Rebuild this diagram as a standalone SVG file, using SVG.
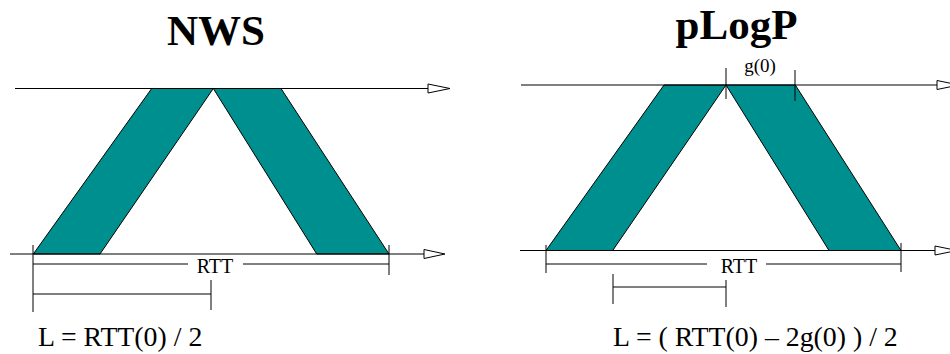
<svg xmlns="http://www.w3.org/2000/svg" width="950" height="354" viewBox="0 0 950 354">
<style>
.band{fill:#008f8f;stroke:#000;stroke-width:1}
.ax{stroke:#000;stroke-width:1;fill:none}
.gr{stroke:#000;stroke-width:1;fill:none}
.head{fill:#fff;stroke:#000;stroke-width:1}
text{font-family:'Liberation Serif','DejaVu Serif',serif;fill:#000}
.title{font-weight:bold;font-size:43px;text-anchor:middle}
.lbl{font-size:20px;text-anchor:middle}
.small{font-size:19px;text-anchor:middle}
.eq{font-size:27.8px}
</style>
<rect width="950" height="354" fill="#fff"/>
<g id="nws">
  <text class="title" x="216" y="45" font-family="Liberation Serif">NWS</text>
  <g id="nws-bands">
    <polygon class="band" points="33.3,254 151.7,88.5 213.3,88.5 100,254"/>
    <polygon class="band" points="213.3,88.5 281,88.5 389,254 316.7,254"/>
  </g>
  <g id="nws-connectors">
    <line class="ax" x1="15" y1="88.5" x2="428" y2="88.5"/>
    <polygon class="head" points="428,84 450,88.5 428,93"/>
    <line class="gr" x1="10" y1="254" x2="424" y2="254"/>
    <polygon class="head" points="424,249.5 445,254 424,258.5"/>
    <line class="gr" x1="33" y1="245" x2="33" y2="312"/>
    <line class="gr" x1="389" y1="245" x2="389" y2="275"/>
    <line class="gr" x1="33" y1="264" x2="188" y2="264"/>
    <line class="gr" x1="243" y1="264" x2="389" y2="264"/>
    <line class="gr" x1="33" y1="294" x2="211" y2="294"/>
    <line class="gr" x1="211" y1="280" x2="211" y2="310"/>
  </g>
  <text class="lbl" x="215" y="273" font-family="Liberation Serif">RTT</text>
  <text class="eq" x="38" y="346" font-family="Liberation Serif">L = RTT(0) / 2</text>
</g>
<g id="plogp">
  <text class="title" x="736.5" y="39" font-family="Liberation Serif">pLogP</text>
  <g id="plogp-bands">
    <polygon class="band" points="546,250.5 664,85 726,85 612.7,250.5"/>
    <polygon class="band" points="726,85 795.3,85 901,250.5 829,250.5"/>
  </g>
  <g id="plogp-connectors">
    <line class="gr" x1="521" y1="85" x2="937" y2="85"/>
    <polygon class="head" points="937,80.5 959,85 937,89.5"/>
    <line class="ax" x1="520" y1="250.5" x2="935" y2="250.5"/>
    <polygon class="head" points="935,246 957,250.5 935,255"/>
    <line class="gr" x1="726" y1="68" x2="726" y2="99"/>
    <line class="gr" x1="795" y1="70" x2="795" y2="101"/>
    <line class="gr" x1="546" y1="245" x2="546" y2="273"/>
    <line class="gr" x1="901" y1="243" x2="901" y2="272"/>
    <line class="gr" x1="546" y1="264" x2="707" y2="264"/>
    <line class="gr" x1="766" y1="264" x2="901" y2="264"/>
    <line class="gr" x1="613" y1="287" x2="726" y2="287"/>
    <line class="gr" x1="613" y1="274" x2="613" y2="304"/>
    <line class="gr" x1="726" y1="280" x2="726" y2="307"/>
  </g>
  <text class="small" x="760" y="72" font-family="Liberation Serif">g(0)</text>
  <text class="lbl" x="739" y="273" font-family="Liberation Serif">RTT</text>
  <text class="eq" x="613" y="346" font-family="Liberation Serif">L = ( RTT(0) – 2g(0) ) / 2</text>
</g>
</svg>
